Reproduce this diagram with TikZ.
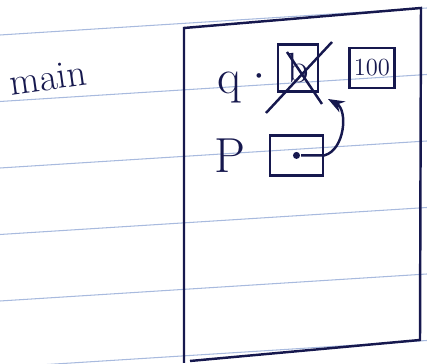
\documentclass[tikz,border=0pt]{standalone}
\usepackage{tikz}
\usetikzlibrary{arrows.meta, positioning}

\definecolor{penna}{RGB}{22,24,78}
\definecolor{riga}{RGB}{168,186,222}

\begin{document}
\begin{tikzpicture}[x=0.02cm, y=0.02cm, >=Stealth, line width=1.4pt, draw=penna, text=penna,
		cella/.style={draw, rectangle, inner sep=0pt, align=center},
		lettera/.style={font=\fontsize{28}{32}\selectfont}]
		
		\useasboundingbox (0,0) rectangle (427,364);
		
		% Righe del foglio
		\foreach \k in {0,...,5}
			\draw [riga, line width=0.6pt] (0,{329-66.5*\k}) -- (427,{356-66.5*\k});
		
		% Riquadro del frame
		\draw (184,1) -- (184,336) -- (421,356) -- (420,24) -- (190,3);
		\node [rotate=8, font=\fontsize{22}{26}\selectfont] (main) at (48,286) {main};
		
		% Variabile q
		\node [lettera] (q) at (229,276) {q};
		\node [font=\small] (uguale) at (259,287) {\textbullet};
		\node [cella, minimum width=0.8cm, minimum height=0.94cm, font=\fontsize{24}{28}\selectfont] (qbox) at (298,296) {b};
		\node [cella, right=0.58cm of qbox, minimum width=0.9cm, minimum height=0.8cm, font=\fontsize{14}{16}\selectfont] (val) {100};
		\draw (266,251) -- (332,322);
		\draw (287,312) -- (322,260);
		
		% Puntatore P
		\node [lettera] (p) at (230,208) {P};
		\node [cella, below=0.83cm of qbox, xshift=-0.03cm, minimum width=1.06cm, minimum height=0.8cm] (pbox) {};
		\node [circle, fill=penna, inner sep=0pt, minimum size=4pt] (pdot) at (pbox.center) {};
		
		% Freccia verso q
		\draw [->] (pdot) -- (pbox.east) .. controls (345,214) and (348,254) .. (328,265);
		
	\end{tikzpicture}
\end{document}
